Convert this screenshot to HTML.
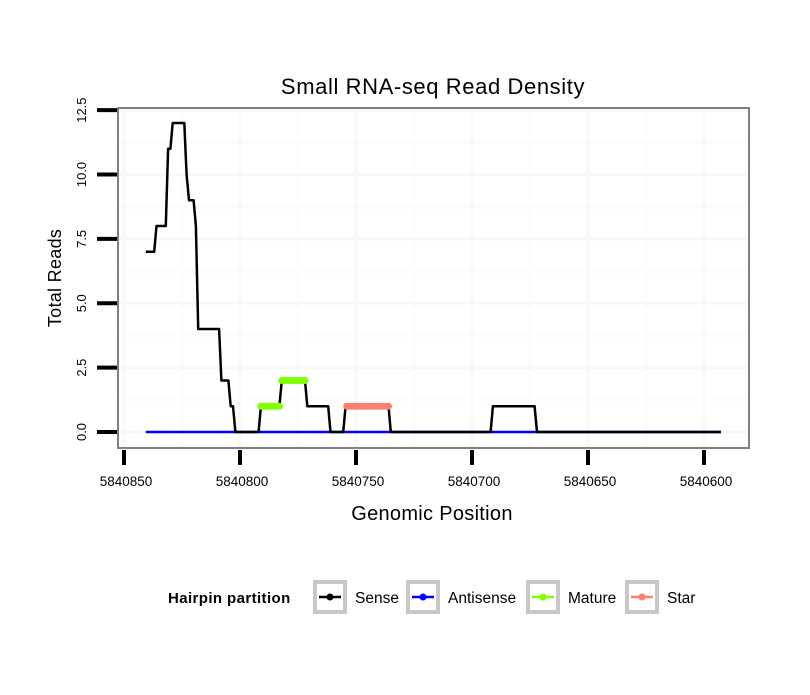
<!DOCTYPE html>
<html><head><meta charset="utf-8"><style>
body{margin:0;background:#fff;}
svg text{font-family:"Liberation Sans",Arial,sans-serif;}
</style></head><body>
<svg id="chart" width="810" height="690" xmlns="http://www.w3.org/2000/svg">
<rect width="810" height="690" fill="#fff"/>
<g id="grid"></g>
<g id="series"></g>
<rect x="118" y="108" width="631" height="340" fill="none" stroke="#808080" stroke-width="2"/>
<g id="axes"></g>
<text x="433" y="94" font-size="22" letter-spacing="0.6" text-anchor="middle">Small RNA-seq Read Density</text>
<text x="432" y="520" font-size="20" letter-spacing="0.3" text-anchor="middle">Genomic Position</text>
<text x="0" y="0" font-size="18" letter-spacing="0.3" text-anchor="middle" transform="translate(61,278) rotate(-90)">Total Reads</text>
<g>
<text x="168" y="603" font-size="15" font-weight="bold" letter-spacing="0.4">Hairpin partition</text>
<g id="legend"></g>
</g>
</svg>
<script>
const xTicks=[5840850,5840800,5840750,5840700,5840650,5840600];
const xMinor=[5840825,5840775,5840725,5840675,5840625];
const yTicks=[0,2.5,5,7.5,10,12.5];
const yTickLabels=["0.0","2.5","5.0","7.5","10.0","12.5"];
const yMinor=[1.25,3.75,6.25,8.75,11.25];
const sensePos=[5840840.6,5840837,5840836,5840832,5840831,5840830,5840829,5840824,5840823,5840822,5840820,5840819,5840818,5840809,5840808,5840805,5840804,5840803,5840802,5840792,5840791,5840783,5840782,5840772,5840771,5840762,5840761,5840755.5,5840754.5,5840736,5840735,5840692,5840691,5840673,5840672,5840592.7];
const senseVal=[7,7,8,8,11,11,12,12,10,9,9,8,4,4,2,2,1,1,0,0,1,1,2,2,1,1,0,0,1,1,0,0,1,1,0,0];
const antiPos=[5840840.6,5840592.7];
const antiVal=[0,0];
const maturePos=[5840791,5840790,5840789,5840788,5840787,5840786,5840785,5840784,5840783,5840782,5840781,5840780,5840779,5840778,5840777,5840776,5840775,5840774,5840773,5840772];
const matureVal=[1,1,1,1,1,1,1,1,1,2,2,2,2,2,2,2,2,2,2,2];
const starPos=[5840754,5840753,5840752,5840751,5840750,5840749,5840748,5840747,5840746,5840745,5840744,5840743,5840742,5840741,5840740,5840739,5840738,5840737,5840736];
const starVal=[1,1,1,1,1,1,1,1,1,1,1,1,1,1,1,1,1,1,1];
const legendLabels=["Sense","Antisense","Mature","Star"];
const legendColors=["#000000","#0000ff","#7fff00","#fa8072"];

const X=p=>124+(5840850-p)*2.32;
const Y=v=>432-v*25.75;
const NS="http://www.w3.org/2000/svg";
function mk(tag,attrs,parent){const e=document.createElementNS(NS,tag);for(const k in attrs)e.setAttribute(k,attrs[k]);parent.appendChild(e);return e;}
const grid=document.getElementById('grid'),axes=document.getElementById('axes'),series=document.getElementById('series'),legend=document.getElementById('legend');
yMinor.forEach(v=>{const l=mk('line',{x1:119,x2:748,y1:Y(v),y2:Y(v),stroke:'#fcfcfc','stroke-width':3},grid);

});
xMinor.forEach(v=>{const l=mk('line',{x1:X(v),x2:X(v),y1:109,y2:447,stroke:'#fcfcfc','stroke-width':3},grid);

});
yTicks.forEach((v,i)=>{const l=mk('line',{x1:119,x2:748,y1:Y(v),y2:Y(v),stroke:'#f8f8f8','stroke-width':3},grid);


const t=mk('line',{x1:97,x2:117,y1:Y(v),y2:Y(v),stroke:'#000','stroke-width':4},axes);


const tx=mk('text',{x:0,y:0,'font-size':13,'text-anchor':'middle',transform:`translate(86,${Y(v)}) rotate(-90)`},axes);
tx.textContent=yTickLabels[i];

});
xTicks.forEach(v=>{const l=mk('line',{x1:X(v),x2:X(v),y1:109,y2:447,stroke:'#f8f8f8','stroke-width':3},grid);


const t=mk('line',{x1:X(v),x2:X(v),y1:450,y2:465,stroke:'#000','stroke-width':4},axes);


const tx=mk('text',{x:X(v)+2,y:486,'font-size':13.5,'text-anchor':'middle'},axes);
tx.textContent=String(v);

});
function path(ps,vs,color,w,name){const d=ps.map((p,i)=>(i?'L':'M')+X(p).toFixed(1)+' '+Y(vs[i]).toFixed(1)).join(' ');
const e=mk('path',{d:d,fill:'none',stroke:color,'stroke-width':w,'stroke-linejoin':'round'},series);

}
function pts(ps,vs,color,name){ps.forEach((p,i)=>{const c=mk('circle',{cx:X(p),cy:Y(vs[i]),r:3.5,fill:color},series);

});}
path(antiPos,antiVal,'#0000ff',2.5,'antisense-line');
path(sensePos,senseVal,'#000',2.5,'sense-line');
pts(maturePos,matureVal,'#7fff00','mature-point');
pts(starPos,starVal,'#fa8072','star-point');
const boxX=[315,408,528,627];
legendLabels.forEach((lab,i)=>{const lx=boxX[i];const g=mk('g',{},legend);


mk('rect',{x:lx,y:582,width:30,height:30,fill:'#fff',stroke:'#c8c8c8','stroke-width':4},g);
mk('line',{x1:lx+4,x2:lx+26,y1:597,y2:597,stroke:legendColors[i],'stroke-width':2.5},g);
mk('circle',{cx:lx+15,cy:597,r:3.5,fill:legendColors[i]},g);
const t=mk('text',{x:lx+40,y:603,'font-size':15.5},g);t.textContent=lab;});
</script>
</body></html>
